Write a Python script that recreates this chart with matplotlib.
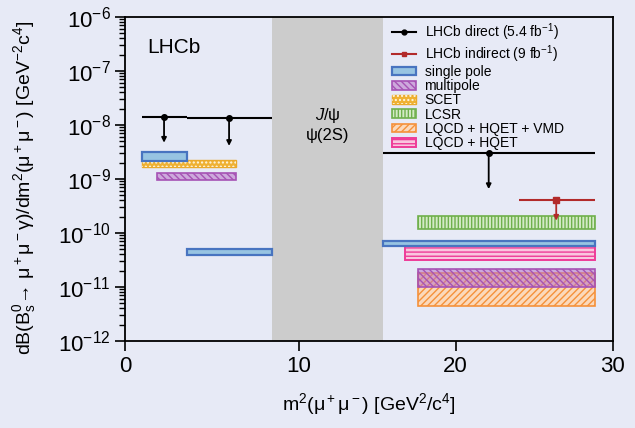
import numpy as np
import matplotlib
matplotlib.use('Agg')
from matplotlib import pyplot as plt
from matplotlib.patches import Rectangle
from matplotlib.lines import Line2D

plt.rcParams['font.family'] = ['Liberation Sans', 'DejaVu Sans']
plt.rcParams['mathtext.fontset'] = 'custom'
plt.rcParams['mathtext.rm'] = 'Liberation Sans'
plt.rcParams['mathtext.it'] = 'Liberation Sans:italic'
plt.rcParams['mathtext.bf'] = 'Liberation Sans:bold'
plt.rcParams['hatch.linewidth'] = 1.0

fond = '#e7eaf6'

# ---- données LHCb (limites supérieures) ----
direct_lo = [0.0446, 2.89, 15.37]
direct_hi = [2.89, 8.29, 28.84]
direct_x = [1.43, 5.57, 22.1]
direct_lim = [1.43e-8, 1.33e-8, 2.99e-9]
direct_fleche = [4.7e-9, 4.1e-9, 6.5e-10]

indirect_lo = [24.0]
indirect_hi = [28.84]
indirect_x = [26.4]
indirect_lim = [4.0e-10]
indirect_fleche = [1.69e-10]

# ---- prédictions théoriques (bandes) ----
single_x0 = [0.0446, 2.89, 15.37]
single_x1 = [2.89, 8.29, 28.84]
single_y0 = [2.18e-9, 3.86e-11, 5.7e-11]
single_y1 = [3.2e-9, 5.1e-11, 7.2e-11]

multi_x0 = [1.0, 17.63]
multi_x1 = [6.0, 28.84]
multi_y0 = [9.7e-10, 9.9e-12]
multi_y1 = [1.29e-9, 2.19e-11]

scet_x0 = [0.0446]
scet_x1 = [6.0]
scet_y0 = [1.65e-9]
scet_y1 = [2.25e-9]

lcsr_x0 = [17.63]
lcsr_x1 = [28.84]
lcsr_y0 = [1.17e-10]
lcsr_y1 = [2.07e-10]

vmd_x0 = [17.63]
vmd_x1 = [28.84]
vmd_y0 = [4.5e-12]
vmd_y1 = [1.82e-11]

hqet_x0 = [16.8]
hqet_x1 = [28.84]
hqet_y0 = [3.16e-11]
hqet_y1 = [5.7e-11]

veto = [8.29, 15.37]

xmin = -1.05

fig = plt.figure(figsize=(6.35, 4.28), dpi=100)
fig.patch.set_facecolor(fond)
ax = fig.add_axes([0.197, 0.2033, 0.768, 0.757])
ax.set_facecolor(fond)
ax.set_yscale('log')
ax.set_xlim(xmin, 30)
ax.set_ylim(1e-12, 1e-6)

ax.axvspan(veto[0], veto[1], color='#cccccc', lw=0, zorder=0.5)
ax.text((veto[0] + veto[1]) / 2, 1.53e-8, '$J$/ψ', ha='center', va='center', fontsize=12)
ax.text((veto[0] + veto[1]) / 2, 6.5e-9, 'ψ(2S)', ha='center', va='center', fontsize=12)


def bande(x0, x1, y0, y1, **kw):
    p = None
    for a, b, c, d in zip(x0, x1, y0, y1):
        p = ax.add_patch(Rectangle((a, c), b - a, d - c, **kw))
    return p


# ordre de tracé
h_vmd = bande(vmd_x0, vmd_x1, vmd_y0, vmd_y1, facecolor='#fbd9bb', edgecolor='#f5913a',
              hatch='/////', lw=1.2, zorder=2)
h_multi = bande(multi_x0, multi_x1, multi_y0, multi_y1, facecolor=(0.72, 0.45, 0.78, 0.55),
                edgecolor='#a652b4', hatch='\\\\\\\\\\', lw=1.2, zorder=3)
h_scet = bande(scet_x0, scet_x1, scet_y0, scet_y1, facecolor='#efb133', edgecolor='#eaa92c',
               lw=1.0, zorder=2)
h_scet2 = bande(scet_x0, scet_x1, scet_y0, scet_y1, facecolor='none', edgecolor='#fff6e0',
                hatch='....', lw=0, zorder=2.1)
h_single = bande(single_x0, single_x1, single_y0, single_y1, facecolor='#97c4e2',
                 edgecolor='#4874c0', lw=1.6, zorder=4)
h_lcsr = bande(lcsr_x0, lcsr_x1, lcsr_y0, lcsr_y1, facecolor='#d3eac6', edgecolor='#6fb04c',
               hatch='|||||', lw=1.2, zorder=2)
h_hqet = bande(hqet_x0, hqet_x1, hqet_y0, hqet_y1, facecolor='#f9c6de', edgecolor='#ee3c98',
               hatch='----', lw=1.4, zorder=3)

# mesures
ax.hlines(direct_lim, direct_lo, direct_hi, color='k', lw=1.5, zorder=5)
ax.plot(direct_x, direct_lim, 'o', color='k', ms=4, zorder=6)
for x, a, b in zip(direct_x, direct_lim, direct_fleche):
    ax.annotate('', xy=(x, b), xytext=(x, a),
                arrowprops=dict(arrowstyle='-|>', color='k', lw=1.3, mutation_scale=7,
                                shrinkA=0, shrinkB=0), zorder=5)

rouge = '#b22a2a'
ax.hlines(indirect_lim, indirect_lo, indirect_hi, color=rouge, lw=1.5, zorder=5)
ax.plot(indirect_x, indirect_lim, 's', color=rouge, ms=4, zorder=6)
for x, a, b in zip(indirect_x, indirect_lim, indirect_fleche):
    ax.annotate('', xy=(x, b), xytext=(x, a),
                arrowprops=dict(arrowstyle='-|>', color=rouge, lw=1.3, mutation_scale=7,
                                shrinkA=0, shrinkB=0), zorder=5)

ax.text(0.045, 0.905, 'LHCb', transform=ax.transAxes, fontsize=15, ha='left', va='center')

poignees = [Line2D([], [], color='k', lw=1.5, marker='o', ms=3.5),
            Line2D([], [], color=rouge, lw=1.5, marker='s', ms=3.5),
            h_single, h_multi, (h_scet, h_scet2), h_lcsr, h_vmd, h_hqet]
etiquettes = ['LHCb direct (5.4 fb$^{-1}$)', 'LHCb indirect (9 fb$^{-1}$)', 'single pole',
              'multipole', 'SCET', 'LCSR', 'LQCD + HQET + VMD', 'LQCD + HQET']
leg = ax.legend(poignees, etiquettes, loc='upper left', bbox_to_anchor=(0.53, 1.013),
                frameon=False, fontsize=10, labelspacing=0.02, handlelength=1.75,
                handleheight=0.6, handletextpad=0.6, borderaxespad=0.2)

for s in ax.spines.values():
    s.set_linewidth(1.3)
    s.set_color('k')
ax.tick_params(which='both', direction='out', top=False, right=False, labelsize=16)
ax.tick_params(which='major', length=7, width=1.2)
ax.tick_params(which='minor', length=4.5, width=1.0)
ax.set_xticks([xmin, 10, 20, 30])
ax.set_xticklabels(['0', '10', '20', '30'])
ax.xaxis.set_minor_locator(matplotlib.ticker.NullLocator())

ax.set_xlabel('m$^2$(μ$^+$μ$^-$) [GeV$^2$/c$^4$]', fontsize=14)
ax.xaxis.set_label_coords(0.5, -0.155)
ax.set_ylabel('dB(B$_\\mathrm{s}^0$→ μ$^+$μ$^-$γ)/dm$^2$(μ$^+$μ$^-$) [GeV$^{-2}$c$^4$]',
              fontsize=14)
ax.yaxis.set_label_coords(-0.178, 0.474)

plt.savefig('out.png', dpi=100, facecolor=fond)
